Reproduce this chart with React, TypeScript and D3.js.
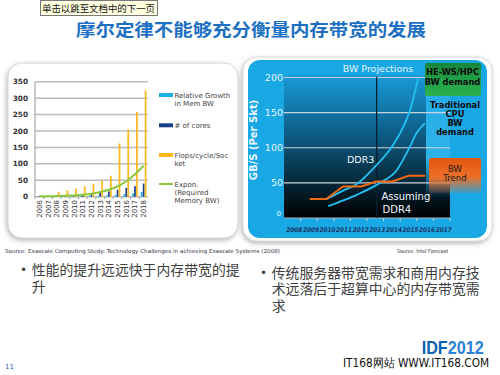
import React from 'react';
import * as d3 from 'd3';

// ---- left chart data ----
const years = ['2006','2007','2008','2009','2010','2011','2012','2013','2014','2015','2016','2017','2018'];
const memBW = [1, 1, 1, 1.5, 2, 2, 3, 3, 4, 6, 8, 10, 15];
const cores = [2, 2, 4, 4, 4, 6, 8, 12, 16, 21, 27, 32, 40];
const flops = [1, 2, 15, 20, 25, 32, 40, 49, 64, 162, 205, 258, 323];
const expon = [1, 1.5, 2, 3, 4, 6, 9, 14, 21, 31, 47, 68, 94];
const leftTicks = [0, 50, 100, 150, 200, 250, 300, 350];
const leftLegend = [
  { key: 'm', color: '#1ab0ea', lines: ['Relative Growth', 'in Mem BW'] },
  { key: 'c', color: '#183f88', lines: ['# of cores'] },
  { key: 'f', color: '#ffb71c', lines: ['Flops/cycle/Soc', 'ket'] },
  { key: 'e', color: '#8cc83c', lines: ['Expon.', '(Required', 'Memory BW)'] },
];

// ---- right chart data ----
const projYears = [2008, 2009, 2010, 2011, 2012, 2013, 2014, 2015, 2016, 2017];
const rightTicks = [0, 50, 100, 150, 200];
const bwTrend: [number, number][] = [[2009.55, 27], [2010.55, 27], [2011.55, 45], [2012.65, 45], [2013.55, 52], [2014.55, 52], [2015.5, 60], [2016.5, 60]];
const ddr3: [number, number][] = [[2010.57, 27], [2011.57, 39], [2012.3, 47], [2013.48, 73], [2014.49, 101], [2015.09, 125], [2015.59, 153], [2016.07, 198]];
const ddr4: [number, number][] = [[2010.67, 17], [2011.57, 25], [2012.38, 33], [2013.78, 50], [2014.79, 68], [2015.49, 97], [2015.99, 121], [2016.49, 135]];
const nowYear = 2013.58;

const LAT = '"DejaVu Sans", Verdana, sans-serif';
const CJK = '"Noto Sans CJK SC", sans-serif';

export default function App() {
  // left scales
  const xL = d3.scaleBand<string>().domain(years).range([35, 148]).paddingInner(0.3).paddingOuter(0.15);
  const yL = d3.scaleLinear().domain([0, 350]).range([196.7, 81.7]);
  const sub = d3.scaleBand<string>().domain(['m', 'c', 'f']).range([0, xL.bandwidth()]).padding(0.12);
  const series = [
    { key: 'm', vals: memBW, color: '#1ab0ea' },
    { key: 'c', vals: cores, color: '#183f88' },
    { key: 'f', vals: flops, color: '#ffb71c' },
  ];
  const exLine = d3.line<number>()
    .x((_, i) => (xL(years[i]) as number) + xL.bandwidth() / 2)
    .y(d => yL(d))
    .curve(d3.curveMonotoneX);

  // right scales
  const xR = d3.scaleLinear().domain([2008, 2018]).range([284, 450]);
  const yR = d3.scaleLinear().domain([0, 200]).range([218, 77.5]);
  const lineR = d3.line<[number, number]>().x(d => xR(d[0])).y(d => yR(d[1]));
  const curveR = d3.line<[number, number]>().x(d => xR(d[0])).y(d => yR(d[1])).curve(d3.curveMonotoneX);

  return (
    <svg width={500} height={375} style={{ position: 'absolute', left: 0, top: 0, background: '#fff' }}>
      <defs>
        <filter id="sh" x="-10%" y="-10%" width="120%" height="125%">
          <feDropShadow dx="-1" dy="2" stdDeviation="2.5" floodColor="#777" floodOpacity="0.55" />
        </filter>
        <linearGradient id="plotG" x1="0" y1="0" x2="0" y2="1">
          <stop offset="0" stopColor="#1a9ad6" />
          <stop offset="0.3" stopColor="#0f6e9e" />
          <stop offset="0.55" stopColor="#0a4866" />
          <stop offset="0.8" stopColor="#05202e" />
          <stop offset="1" stopColor="#000" />
        </linearGradient>
        <linearGradient id="ovG" x1="0" y1="0" x2="0" y2="1">
          <stop offset="0" stopColor="#25ade6" stopOpacity="1" />
          <stop offset="0.65" stopColor="#2fb2ea" stopOpacity="1" />
          <stop offset="1" stopColor="#2fb2ea" stopOpacity="0" />
        </linearGradient>
        <linearGradient id="grnG" x1="0" y1="0" x2="0" y2="1">
          <stop offset="0" stopColor="#15853a" />
          <stop offset="0.5" stopColor="#22a048" />
          <stop offset="1" stopColor="#2bb04e" />
        </linearGradient>
        <linearGradient id="orG" x1="0" y1="0" x2="0" y2="1">
          <stop offset="0" stopColor="#e2570e" />
          <stop offset="0.55" stopColor="#ec7028" />
          <stop offset="1" stopColor="#ec7028" stopOpacity="0.15" />
        </linearGradient>
      </defs>

      {/* tooltip */}
      <rect x={40.5} y={0.5} width={117} height={15} fill="#ffffe1" stroke="#777" />
      <text x={42} y={11.5} fontSize={9.5} fontFamily={CJK} fill="#111" textLength={113} lengthAdjust="spacingAndGlyphs">单击以跳至文档中的下一页</text>

      {/* title */}
      <text x={251} y={36} textAnchor="middle" fontSize={17.5} fontWeight="bold" fontFamily={CJK} fill="#1c6fc2" textLength={350} lengthAdjust="spacingAndGlyphs">摩尔定律不能够充分衡量内存带宽的发展</text>

      {/* left panel */}
      <rect x={8} y={63} width={230} height={175} rx={14} fill="#fff" stroke="#d6d6d6" filter="url(#sh)" />
      {leftTicks.map(t => (
        <g key={t}>
          <line x1={35} x2={148} y1={yL(t)} y2={yL(t)} stroke="#bdbdbd" strokeWidth={1.5} />
          <text x={28} y={yL(t) + 2.6} textAnchor="end" fontSize={7.3} fontFamily={LAT} fill="#333" fontWeight="bold">{t}</text>
        </g>
      ))}
      <line x1={35} x2={35} y1={81.7} y2={197} stroke="#999" />
      {years.map((yr, i) => (
        <g key={yr}>
          {series.map(s => (
            <rect key={s.key} x={(xL(yr) as number) + (sub(s.key) as number)} y={yL(s.vals[i])}
              width={sub.bandwidth()} height={yL(0) - yL(s.vals[i])} fill={s.color} />
          ))}
          <line x1={(xL(yr) as number) - xL.step() * 0.15} x2={(xL(yr) as number) - xL.step() * 0.15} y1={196.7} y2={199} stroke="#999" />
          <text transform={`translate(${(xL(yr) as number) + xL.bandwidth() / 2 + 2.5},200) rotate(-90)`} textAnchor="end"
            fontSize={7} fontFamily={LAT} fill="#333">{yr}</text>
        </g>
      ))}
      <path d={exLine(expon) || ''} fill="none" stroke="#8cc83c" strokeWidth={2} />
      {leftLegend.map((l, i) => {
        const cy = [95, 125.3, 155, 184][i];
        return (
          <g key={l.key}>
            {l.key === 'e'
              ? <line x1={159} x2={173} y1={cy} y2={cy} stroke={l.color} strokeWidth={2} />
              : <rect x={159} y={cy - 2} width={14} height={4} fill={l.color} />}
            {l.lines.map((t, j) => (
              <text key={j} x={174.5} y={cy + 2.5 + j * 8.4} fontSize={7} fontFamily={LAT} fill="#444">{t}</text>
            ))}
          </g>
        );
      })}

      {/* right panel */}
      <rect x={243} y={57} width={249} height={184} rx={14} fill="#fff" stroke="#dcdcdc" filter="url(#sh)" />
      <rect x={248} y={60} width={239} height={178} rx={12} fill="#19a8e3" />
      <rect x={284} y={75} width={166} height={143} fill="url(#plotG)" />
      <rect x={426} y={88} width={24} height={110} fill="url(#ovG)" />
      {rightTicks.filter(t => t > 0).map(t => (
        <line key={t} x1={284} x2={450} y1={yR(t)} y2={yR(t)} stroke="#c9d3dc" strokeWidth={1.2} />
      ))}
      <line x1={284} x2={450} y1={218} y2={218} stroke="#9fb3c2" strokeWidth={1} />
      {rightTicks.map(t => (
        <text key={t} x={t === 0 ? 281 : 283} y={t === 0 ? 216 : yR(t) + 3.3} textAnchor="end"
          fontSize={t === 0 ? 7 : 9.5} fontFamily={LAT} fill="#e6f5ff">{t}</text>
      ))}
      {projYears.map(y => (
        <g key={y}>
          <line x1={xR(y + 1)} x2={xR(y + 1)} y1={218} y2={221} stroke="#c9d3dc" />
          <text x={xR(y + 0.5) + 2} y={231.5} textAnchor="middle" fontSize={6.5} fontWeight="bold" fontStyle="italic"
            fontFamily={LAT} fill="#1c3566" textLength={16} lengthAdjust="spacingAndGlyphs">{y}</text>
        </g>
      ))}
      <text transform="translate(257,140) rotate(-90)" textAnchor="middle" fontSize={10} fontWeight="bold" fontFamily={LAT} fill="#e8f6ff">GB/S (Per Skt)</text>
      <line x1={xR(nowYear)} x2={xR(nowYear)} y1={77} y2={218} stroke="#0a2030" strokeWidth={1.3} />
      <text x={378} y={71.5} textAnchor="middle" fontSize={9.5} fontFamily={LAT} fill="#e3f3ff">BW Projections</text>
      <path d={curveR(ddr3) || ''} fill="none" stroke="#22c0f2" strokeWidth={1.8} />
      <path d={curveR(ddr4) || ''} fill="none" stroke="#22c0f2" strokeWidth={1.8} />
      <path d={lineR(bwTrend) || ''} fill="none" stroke="#f06a12" strokeWidth={2} />
      <text x={347} y={162.5} fontSize={9.5} fontFamily={LAT} fill="#f2f8ff">DDR3</text>
      <text x={381.5} y={199.5} fontSize={10} fontFamily={LAT} fill="#f2f8ff">Assuming</text>
      <text x={382.5} y={213} fontSize={10} fontFamily={LAT} fill="#f2f8ff">DDR4</text>

      <rect x={425} y={63} width={56} height={33} rx={2} fill="url(#grnG)" />
      <text x={452.5} y={75} textAnchor="middle" fontSize={8.3} fontWeight="bold" fontFamily={LAT} fill="#0a0a0a">HE-WS/HPC</text>
      <text x={452.5} y={84.5} textAnchor="middle" fontSize={8.3} fontWeight="bold" fontFamily={LAT} fill="#0a0a0a">BW demand</text>
      {['Traditional', 'CPU', 'BW', 'demand'].map((t, i) => (
        <text key={t} x={455} y={107.5 + i * 9.1} textAnchor="middle" fontSize={8.3} fontWeight="bold" fontFamily={LAT} fill="#0a0a0a">{t}</text>
      ))}
      <rect x={429} y={158} width={52} height={35} rx={2} fill="url(#orG)" />
      <text x={455} y={171.5} textAnchor="middle" fontSize={8.5} fontFamily={LAT} fill="#1a1a1a">BW</text>
      <text x={455} y={180.5} textAnchor="middle" fontSize={8.5} fontFamily={LAT} fill="#1a1a1a">Trend</text>

      {/* sources */}
      <text x={5} y={253} fontSize={5.5} fontFamily={LAT} fill="#334" textLength={275} lengthAdjust="spacingAndGlyphs">Source: Exascale Computing Study: Technology Challenges in achieving Exascale Systems (2008)</text>
      <text x={397} y={253} fontSize={5.5} fontFamily={LAT} fill="#334" textLength={51} lengthAdjust="spacingAndGlyphs">Source: Intel Forecast</text>

      {/* bullets */}
      <text x={20} y={274} fontSize={12} fontFamily={LAT} fill="#444">•</text>
      <text x={31.7} y={275} fontSize={14} fontFamily={CJK} fill="#404040" textLength={208} lengthAdjust="spacingAndGlyphs">性能的提升远远快于内存带宽的提</text>
      <text x={31.7} y={292} fontSize={14} fontFamily={CJK} fill="#404040">升</text>
      <text x={260} y={276.5} fontSize={12} fontFamily={LAT} fill="#444">•</text>
      <text x={271.7} y={277.7} fontSize={14} fontFamily={CJK} fill="#404040" textLength={208} lengthAdjust="spacingAndGlyphs">传统服务器带宽需求和商用内存技</text>
      <text x={271.7} y={294.3} fontSize={14} fontFamily={CJK} fill="#404040" textLength={208} lengthAdjust="spacingAndGlyphs">术远落后于超算中心的内存带宽需</text>
      <text x={271.7} y={311} fontSize={14} fontFamily={CJK} fill="#404040">求</text>

      {/* footer */}
      <text x={5} y={369} fontSize={7} fontFamily={LAT} fill="#1a5fa8">11</text>
      <text x={421.7} y={354} fontSize={18.5} fontWeight="bold" fontFamily='"Liberation Sans", Arial, sans-serif' textLength={62} lengthAdjust="spacingAndGlyphs">
        <tspan fill="#0b5fb0">IDF</tspan><tspan fill="#2a82d6">2012</tspan>
      </text>
      <text x={343} y={367} fontSize={11.5} fontFamily={LAT} fill="#111" textLength={146} lengthAdjust="spacingAndGlyphs">IT168网站  WWW.IT168.COM</text>
    </svg>
  );
}
